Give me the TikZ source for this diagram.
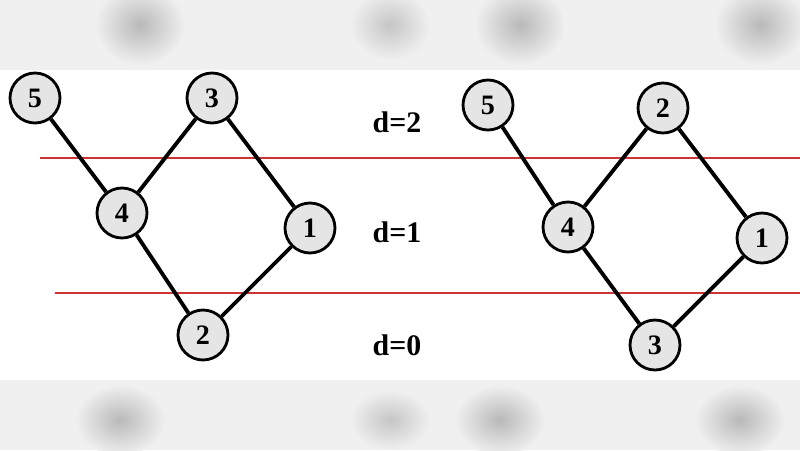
\documentclass[tikz,border=0pt]{standalone}
\usepackage{fontspec}
\setmainfont{Liberation Serif}
\begin{document}
\begin{tikzpicture}[x=0.02cm,y=-0.02cm,
  vtx/.style={circle,draw=black,line width=1.6pt,fill=gray!20,minimum size=1cm,inner sep=0pt,font=\fontsize{16}{18}\selectfont\bfseries},
  edge/.style={line width=2.2pt},
  lvl/.style={draw=red!75!black!80,line width=0.6pt},
  lab/.style={font=\fontsize{17}{19}\selectfont\bfseries}]
\useasboundingbox (0,0) rectangle (800,450);
\fill[gray!12] (0,0) rectangle (800,70);
\fill[gray!12] (0,380) rectangle (800,450);
\foreach \x in {140,520,760}{
  \shade[inner color=gray!55,outer color=gray!12] (\x,25) ellipse (45 and 40);
  \shade[inner color=gray!55,outer color=gray!12] (\x-20,420) ellipse (45 and 35);}
\shade[inner color=gray!45,outer color=gray!12] (390,25) ellipse (40 and 35);
\shade[inner color=gray!45,outer color=gray!12] (390,420) ellipse (40 and 30);
\fill[white] (0,70) rectangle (800,380);
\coordinate (r1a) at (40,158); \coordinate (r1b) at (800,158);
\coordinate (r2a) at (55,293); \coordinate (r2b) at (800,293);
\draw[lvl] (r1a) -- (r1b);
\draw[lvl] (r2a) -- (r2b);
\node[vtx] (a5) at (35,98) {5};
\node[vtx] (a3) at (212,98) {3};
\node[vtx] (a4) at (122,213) {4};
\node[vtx] (a1) at (310,228) {1};
\node[vtx] (a2) at (203,335) {2};
\node[vtx] (b5) at (488,105) {5};
\node[vtx] (b2) at (663,108) {2};
\node[vtx] (b4) at (568,227) {4};
\node[vtx] (b1) at (762,238) {1};
\node[vtx] (b3) at (655,345) {3};
\draw[edge] (a5) -- (a4) (a4) -- (a3) (a3) -- (a1) (a4) -- (a2) (a2) -- (a1);
\draw[edge] (b5) -- (b4) (b4) -- (b2) (b2) -- (b1) (b4) -- (b3) (b3) -- (b1);
\node[lab] (d2) at (397,122) {d=2};
\node[lab] (d1) at (397,232) {d=1};
\node[lab] (d0) at (397,345) {d=0};
\end{tikzpicture}
\end{document}
